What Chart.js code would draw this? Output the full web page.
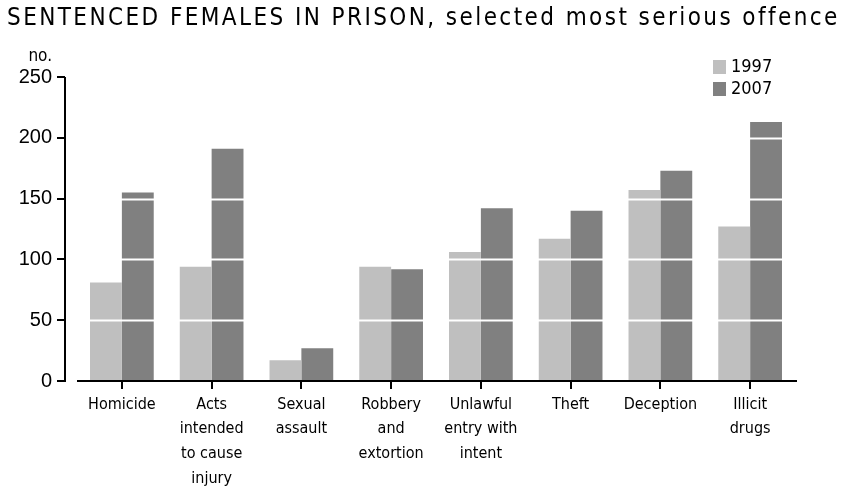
<!DOCTYPE html>
<html>
<head>
<meta charset="utf-8">
<script src="https://cdn.jsdelivr.net/npm/chart.js@4"></script>
<style>
  html, body { margin: 0; padding: 0; background: #fff; }
  #wrap { width: 842px; height: 486px; }
</style>
</head>
<body>
<div id="wrap"><canvas id="mainChart" width="842" height="486"></canvas></div>
<script>
// ---------------- Data ----------------
const categories = [
    "Homicide",
    ["Acts", "intended", "to cause", "injury"],
    ["Sexual", "assault"],
    ["Robbery", "and", "extortion"],
    ["Unlawful", "entry with", "intent"],
    "Theft",
    "Deception",
    ["Illicit", "drugs"]
];
const seriesNames = ["1997", "2007"];
const values1997 = [81, 94, 17, 94, 106, 117, 157, 127];
const values2007 = [155, 191, 27, 92, 142, 140, 173, 213];
const yMin = 0, yMax = 250, yStep = 50;

const titleText = "SENTENCED FEMALES IN PRISON, selected most serious offence";
const unitText = "no.";

const NARROW = "'DejaVu Sans Condensed', 'Liberation Sans', sans-serif";
const REG = "'Liberation Sans', Arial, sans-serif";


// ---------------- Plugins ----------------
const whiteGrid = {
    id: 'whiteGrid',
    afterDatasetsDraw(chart) {
        const { ctx, chartArea, scales: { y } } = chart;
        ctx.save();
        ctx.strokeStyle = '#ffffff';
        ctx.lineWidth = 2;
        y.ticks.forEach(t => {
            const py = Math.round(y.getPixelForValue(t.value)) + 0.5;
            ctx.beginPath();
            ctx.moveTo(chartArea.left, py);
            ctx.lineTo(chartArea.right, py);
            ctx.stroke();
        });
        ctx.restore();
    }
};

const axesAndText = {
    id: 'axesAndText',
    afterDraw(chart) {
        const { ctx, chartArea, scales: { x, y } } = chart;
        const axisX = chartArea.left - 12;
        const y0 = y.getPixelForValue(0);
        const yTop = y.getPixelForValue(yMax);

        ctx.save();
        ctx.strokeStyle = '#000';
        ctx.lineWidth = 2;

        // y axis + ticks
        ctx.beginPath();
        ctx.moveTo(axisX, yTop);
        ctx.lineTo(axisX, y0 + 1);
        y.ticks.forEach(t => {
            const py = Math.round(y.getPixelForValue(t.value));
            ctx.moveTo(axisX - 8, py);
            ctx.lineTo(axisX, py);
        });
        ctx.stroke();

        // x axis + ticks
        ctx.beginPath();
        ctx.moveTo(chartArea.left, y0);
        ctx.lineTo(chartArea.right + 2, y0);
        categories.forEach((c, i) => {
            const px = Math.round(x.getPixelForValue(i));
            ctx.moveTo(px, y0);
            ctx.lineTo(px, y0 + 8);
        });
        ctx.stroke();

        // title, stretched to the reference width with letter spacing
        ctx.fillStyle = '#000';
        ctx.textBaseline = 'middle';
        ctx.textAlign = 'left';
        ctx.font = "24px " + NARROW;
        const w = ctx.measureText(titleText).width;
        ctx.letterSpacing = ((830 - w) / (titleText.length - 1)).toFixed(2) + 'px';
        ctx.fillText(titleText, 7, 19);
        ctx.letterSpacing = '0px';

        // unit label
        ctx.font = "17px " + NARROW;
        ctx.textAlign = 'right';
        ctx.fillText(unitText, 52, 57);

        // legend
        const colors = chart.data.datasets.map(d => d.backgroundColor);
        ctx.font = "18px " + NARROW;
        ctx.textAlign = 'left';
        seriesNames.forEach((n, i) => {
            const top = 60 + i * 22;
            ctx.fillStyle = colors[i];
            ctx.fillRect(713, top, 13, 14);
            ctx.fillStyle = '#000';
            ctx.fillText(n, 731, top + 7);
        });
        ctx.restore();
    }
};


// ---------------- Chart Init ----------------
const ctx = document.getElementById('mainChart').getContext('2d');

const mainChart = new Chart(ctx, {
    type: 'bar',
    data: {
        labels: categories,
        datasets: [
            { label: seriesNames[0], data: values1997, backgroundColor: '#bfbfbf' },
            { label: seriesNames[1], data: values2007, backgroundColor: '#808080' }
        ]
    },
    options: {
        responsive: false,
        animation: false,
        layout: { padding: { top: 77, right: 47, bottom: 0, left: 0 } },
        datasets: {
            bar: { categoryPercentage: 0.71, barPercentage: 1.0, borderWidth: 0 }
        },
        plugins: {
            legend: { display: false },
            title: { display: false },
            tooltip: { enabled: false }
        },
        scales: {
            x: {
                grid: { display: false, drawTicks: false },
                border: { display: false },
                ticks: {
                    color: '#000',
                    padding: 11,
                    maxRotation: 0,
                    autoSkip: false,
                    font: { family: NARROW, size: 16, lineHeight: 1.55 }
                },
                afterFit(scale) { scale.height = 105; }
            },
            y: {
                min: yMin,
                max: yMax,
                grid: { display: false, drawTicks: false },
                border: { display: false },
                ticks: {
                    stepSize: yStep,
                    color: '#000',
                    padding: 25,
                    font: { family: REG, size: 20 }
                },
                afterFit(scale) { scale.width = 77; }
            }
        }
    },
    plugins: [whiteGrid, axesAndText]
});
</script>
</body>
</html>
